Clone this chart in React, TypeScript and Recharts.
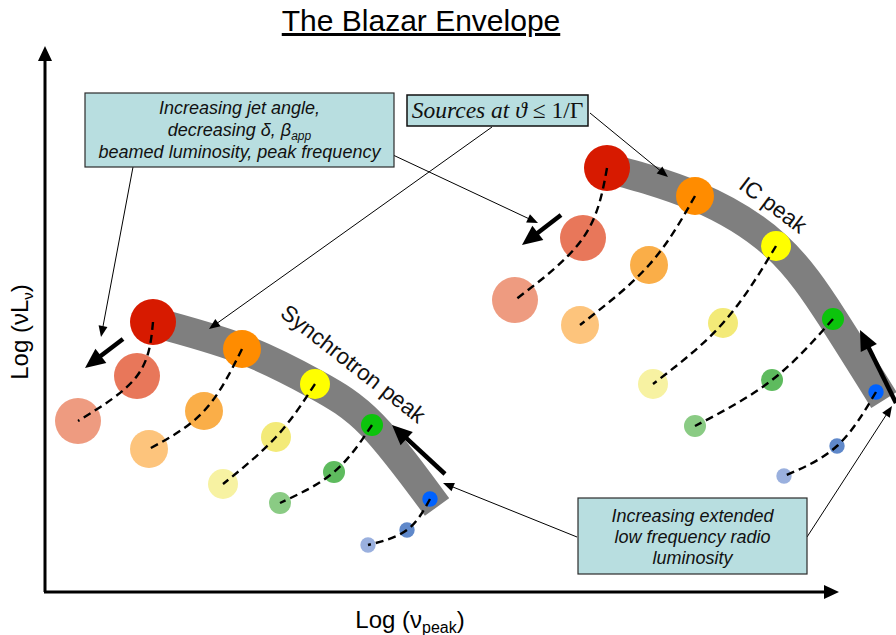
import { ComposedChart, XAxis, YAxis, Line, Scatter, ReferenceLine, ReferenceArea, ReferenceDot } from 'recharts'

type Pt = { x: number; y: number }

// x = log(nu_peak), y = log(nu L_nu), arbitrary schematic units
// every chain starts at the aligned source (on the envelope) and walks to larger jet angles
const syncRed: Pt[] = [{ x: 153, y: 313 }, { x: 137, y: 259 }, { x: 78, y: 214 }]
const syncOrange: Pt[] = [{ x: 242, y: 286 }, { x: 204, y: 224 }, { x: 149, y: 186 }]
const syncYellow: Pt[] = [{ x: 315, y: 251 }, { x: 276, y: 198 }, { x: 223, y: 151 }]
const syncGreen: Pt[] = [{ x: 372, y: 210 }, { x: 334, y: 163 }, { x: 280, y: 132 }]
const syncBlue: Pt[] = [{ x: 430, y: 136 }, { x: 407, y: 105 }, { x: 368, y: 90 }]

const icRed: Pt[] = [{ x: 607, y: 467 }, { x: 583, y: 397 }, { x: 515, y: 335 }]
const icOrange: Pt[] = [{ x: 695, y: 439 }, { x: 649, y: 370 }, { x: 580, y: 310 }]
const icYellow: Pt[] = [{ x: 776, y: 389 }, { x: 723, y: 312 }, { x: 653, y: 251 }]
const icGreen: Pt[] = [{ x: 833, y: 316 }, { x: 772, y: 255 }, { x: 695, y: 209 }]
const icBlue: Pt[] = [{ x: 876, y: 243 }, { x: 837, y: 189 }, { x: 784, y: 159 }]

// the envelopes traced by the aligned sources
const syncEnvelope: Pt[] = [{ x: 153, y: 313 }, { x: 242, y: 286 }, { x: 315, y: 251 }, { x: 372, y: 210 }, { x: 437, y: 128 }]
const icEnvelope: Pt[] = [{ x: 607, y: 467 }, { x: 695, y: 439 }, { x: 776, y: 389 }, { x: 833, y: 316 }, { x: 884, y: 235 }]

const W = 896
const H = 635
const FONT = '"Liberation Sans", Arial, Helvetica, sans-serif'
const BOX_FILL = '#B8DEE0'

// circle size and shade per luminosity rank / step along the chain
const RADII = [23, 19, 15, 11, 7.7]
const SHADES = [
  ['#D71A00', '#E8775A', '#EE9B80'],
  ['#FF8C00', '#FAAE48', '#FDC47C'],
  ['#FFFF00', '#F3EA78', '#F7F2A2'],
  ['#0CC40C', '#5EBB5E', '#8ACB84'],
  ['#0062FF', '#5F88CA', '#9AB0DE'],
]

const chains = [
  { key: 'sr', rank: 0, pts: syncRed },
  { key: 'so', rank: 1, pts: syncOrange },
  { key: 'sy', rank: 2, pts: syncYellow },
  { key: 'sg', rank: 3, pts: syncGreen },
  { key: 'sb', rank: 4, pts: syncBlue },
  { key: 'ir', rank: 0, pts: icRed },
  { key: 'io', rank: 1, pts: icOrange },
  { key: 'iy', rank: 2, pts: icYellow },
  { key: 'ig', rank: 3, pts: icGreen },
  { key: 'ib', rank: 4, pts: icBlue },
]

// annotation arrows, [from, to]
const thinArrows: Pt[][] = [
  [{ x: 133, y: 468 }, { x: 101, y: 298 }],
  [{ x: 393, y: 480 }, { x: 538, y: 412 }],
  [{ x: 492, y: 508 }, { x: 209, y: 306 }],
  [{ x: 590, y: 522 }, { x: 668, y: 458 }],
  [{ x: 577, y: 98 }, { x: 443, y: 152 }],
  [{ x: 807, y: 98 }, { x: 892, y: 229 }],
]
const thickArrows: Pt[][] = [
  [{ x: 123, y: 296 }, { x: 85, y: 267 }],
  [{ x: 561, y: 420 }, { x: 522, y: 390 }],
  [{ x: 445, y: 161 }, { x: 392, y: 210 }],
  [{ x: 896, y: 232 }, { x: 860, y: 305 }],
]
const axisArrows: Pt[][] = [
  [{ x: 45, y: 43 }, { x: 45, y: 589 }],
  [{ x: 44, y: 43 }, { x: 839, y: 43 }],
]

function arrowShape(width: number, head: number, half: number) {
  return (p: any) => {
    const { x1, y1, x2, y2 } = p
    const len = Math.hypot(x2 - x1, y2 - y1) || 1
    const ux = (x2 - x1) / len
    const uy = (y2 - y1) / len
    const bx = x2 - ux * head
    const by = y2 - uy * head
    return (
      <g>
        <line x1={x1} y1={y1} x2={bx + ux * 2} y2={by + uy * 2} stroke="#000" strokeWidth={width} />
        <polygon
          points={`${x2},${y2} ${bx - uy * half},${by + ux * half} ${bx + uy * half},${by - ux * half}`}
          fill="#000"
        />
      </g>
    )
  }
}

function noteBox(lines: any[], offsets: number[], size: number) {
  return (p: any) => (
    <g>
      <rect x={p.x} y={p.y} width={p.width} height={p.height} fill={BOX_FILL} stroke="#2b2b2b" strokeWidth={1.2} />
      {lines.map((ln, i) => (
        <text key={i} x={p.x + p.width / 2} y={p.y + offsets[i]} textAnchor="middle" fontFamily={FONT}
          fontStyle="italic" fontSize={size} fill="#111">
          {ln}
        </text>
      ))}
    </g>
  )
}

function rotatedLabel(text: string, angle: number, size: number) {
  return (p: any) => (
    <text x={p.cx} y={p.cy} transform={`rotate(${angle} ${p.cx} ${p.cy})`} textAnchor="middle"
      dominantBaseline="central" fontFamily={FONT} fontSize={size} fill="#111">
      {text}
    </text>
  )
}

export default function App() {
  return (
    <div style={{ position: 'absolute', left: 0, top: 0, width: W, height: H, background: '#fff' }}>
      <ComposedChart width={W} height={H} margin={{ top: 0, right: 0, bottom: 0, left: 0 }}>
        <XAxis type="number" dataKey="x" domain={[0, W]} allowDataOverflow hide />
        <YAxis type="number" dataKey="y" domain={[0, H]} allowDataOverflow hide />

        {[syncEnvelope, icEnvelope].map((env, i) => (
          <Line key={'env' + i} data={env} dataKey="y" type="natural" stroke="#7F7F7F" strokeWidth={30}
            dot={false} activeDot={false} isAnimationActive={false} zIndex={350} />
        ))}

        {chains.map((c) => (
          <Scatter key={'pts' + c.key} data={c.pts.map((d, i) => ({ ...d, step: i }))} isAnimationActive={false}
            shape={(p: any) => (
              <circle cx={p.cx} cy={p.cy} r={RADII[c.rank]} fill={SHADES[c.rank][p.payload.step]} />
            )}
          />
        ))}

        {chains.map((c) => (
          <Line key={'path' + c.key} data={c.pts} dataKey="y" type="natural" stroke="#000" strokeWidth={2.4}
            strokeDasharray="8 5" dot={false} activeDot={false} isAnimationActive={false} zIndex={700} />
        ))}

        {axisArrows.map((s, i) => (
          <ReferenceLine key={'ax' + i} segment={s} shape={arrowShape(3, 15, 7)} zIndex={800} />
        ))}
        {thinArrows.map((s, i) => (
          <ReferenceLine key={'th' + i} segment={s} shape={arrowShape(1, 11, 4.5)} zIndex={800} />
        ))}
        {thickArrows.map((s, i) => (
          <ReferenceLine key={'tk' + i} segment={s} shape={arrowShape(4.5, 20, 9)} zIndex={800} />
        ))}

        <ReferenceArea x1={85} x2={394} y1={468} y2={542} zIndex={800}
          shape={noteBox([
            'Increasing jet angle,',
            <>
              <tspan>decreasing δ, β</tspan>
              <tspan fontSize={12} dy={4}>app</tspan>
            </>,
            'beamed luminosity, peak frequency',
          ], [21, 43, 65], 18)}
        />
        <ReferenceArea x1={578} x2={807} y1={61} y2={137} zIndex={800}
          shape={noteBox(['Increasing extended', 'low frequency radio', 'luminosity'], [24, 45, 66], 18)}
        />
        <ReferenceArea x1={407} x2={588} y1={509} y2={540} zIndex={800}
          shape={(p: any) => (
            <g>
              <rect x={p.x} y={p.y} width={p.width} height={p.height} fill={BOX_FILL} stroke="#111" strokeWidth={1.5} />
              <text x={p.x + p.width / 2} y={p.y + 23} textAnchor="middle" fontFamily='"Liberation Serif", "Times New Roman", serif'
                fontSize={23.5} fill="#111">
                <tspan fontStyle="italic">Sources at ϑ </tspan>
                <tspan>≤ 1/Γ</tspan>
              </text>
            </g>
          )}
        />

        <ReferenceDot x={353} y={271} r={0} zIndex={800} shape={rotatedLabel('Synchrotron peak', 38, 22.5)} />
        <ReferenceDot x={773} y={430} r={0} zIndex={800} shape={rotatedLabel('IC peak', 37, 22.5)} />

        <ReferenceDot x={421} y={604} r={0} zIndex={800}
          shape={(p: any) => (
            <text x={p.cx} y={p.cy} textAnchor="middle" fontFamily={FONT} fontSize={30} fill="#000"
              style={{ textDecoration: 'underline' }}>
              The Blazar Envelope
            </text>
          )}
        />
        <ReferenceDot x={410} y={7} r={0} zIndex={800}
          shape={(p: any) => (
            <text x={p.cx} y={p.cy} textAnchor="middle" fontFamily={FONT} fontSize={24} fill="#000">
              <tspan>Log (ν</tspan>
              <tspan fontSize={16} dy={5}>peak</tspan>
              <tspan dy={-5}>)</tspan>
            </text>
          )}
        />
        <ReferenceDot x={28} y={303} r={0} zIndex={800}
          shape={(p: any) => (
            <text x={p.cx} y={p.cy} transform={`rotate(-90 ${p.cx} ${p.cy})`} textAnchor="middle" fontFamily={FONT}
              fontSize={24} fill="#000">
              <tspan>Log (νL</tspan>
              <tspan fontSize={15} dy={5}>ν</tspan>
              <tspan dy={-5}>)</tspan>
            </text>
          )}
        />
      </ComposedChart>
    </div>
  )
}
